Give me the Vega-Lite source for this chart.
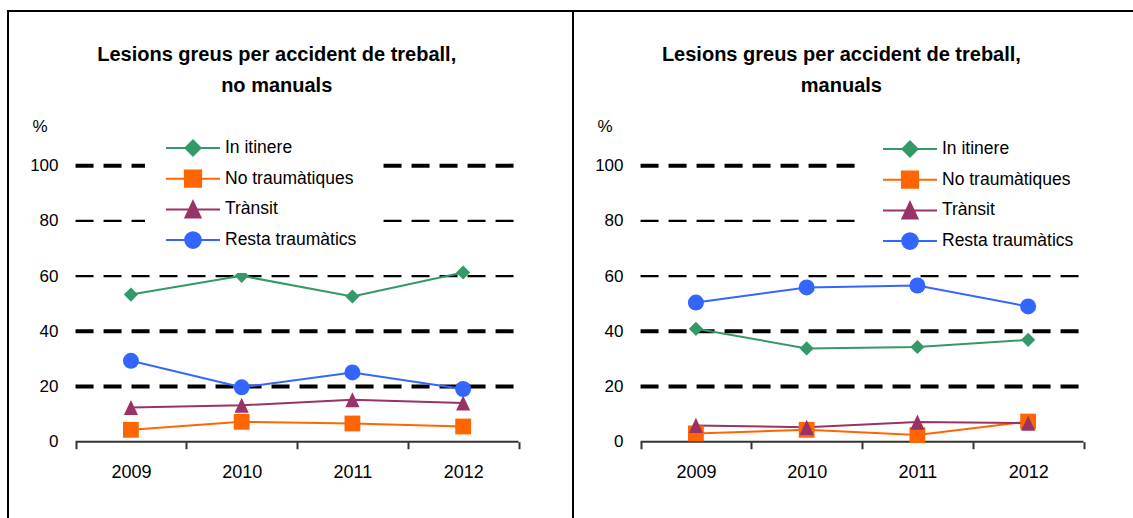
{
  "$schema": "https://vega.github.io/schema/vega-lite/v6.json",
  "background": "white",
  "padding": {"left": 7, "top": 10, "right": 0, "bottom": 0},
  "datasets": {
    "nomanuals": [
      {"year": 2009, "serie": "In itinere", "value": 53.3},
      {"year": 2010, "serie": "In itinere", "value": 60.1},
      {"year": 2011, "serie": "In itinere", "value": 52.6},
      {"year": 2012, "serie": "In itinere", "value": 61.3},
      {"year": 2009, "serie": "No traumàtiques", "value": 4.3},
      {"year": 2010, "serie": "No traumàtiques", "value": 7.2},
      {"year": 2011, "serie": "No traumàtiques", "value": 6.6},
      {"year": 2012, "serie": "No traumàtiques", "value": 5.5},
      {"year": 2009, "serie": "Trànsit", "value": 12.4},
      {"year": 2010, "serie": "Trànsit", "value": 13.2},
      {"year": 2011, "serie": "Trànsit", "value": 15.2},
      {"year": 2012, "serie": "Trànsit", "value": 14.0},
      {"year": 2009, "serie": "Resta traumàtics", "value": 29.3},
      {"year": 2010, "serie": "Resta traumàtics", "value": 19.7},
      {"year": 2011, "serie": "Resta traumàtics", "value": 25.1},
      {"year": 2012, "serie": "Resta traumàtics", "value": 19.1}
    ],
    "manuals": [
      {"year": 2009, "serie": "In itinere", "value": 40.9},
      {"year": 2010, "serie": "In itinere", "value": 33.8},
      {"year": 2011, "serie": "In itinere", "value": 34.3},
      {"year": 2012, "serie": "In itinere", "value": 36.9},
      {"year": 2009, "serie": "No traumàtiques", "value": 3.0},
      {"year": 2010, "serie": "No traumàtiques", "value": 4.3},
      {"year": 2011, "serie": "No traumàtiques", "value": 2.4},
      {"year": 2012, "serie": "No traumàtiques", "value": 7.3},
      {"year": 2009, "serie": "Trànsit", "value": 5.9},
      {"year": 2010, "serie": "Trànsit", "value": 5.2},
      {"year": 2011, "serie": "Trànsit", "value": 7.1},
      {"year": 2012, "serie": "Trànsit", "value": 6.7},
      {"year": 2009, "serie": "Resta traumàtics", "value": 50.4},
      {"year": 2010, "serie": "Resta traumàtics", "value": 55.9},
      {"year": 2011, "serie": "Resta traumàtics", "value": 56.6},
      {"year": 2012, "serie": "Resta traumàtics", "value": 49.0}
    ],
    "grid": [{"value": 20}, {"value": 40}, {"value": 60}, {"value": 80}, {"value": 100}]
  },
  "spacing": 0,
  "bounds": "flush",
  "resolve": {
    "scale": {"color": "independent"},
    "legend": {"color": "independent"}
  },
  "hconcat": [
    {
      "width": 565,
      "height": 520,
      "data": {"name": "nomanuals"},
      "title": {"text": ["Lesions greus per accident de treball,", "no manuals"], "anchor": "middle", "frame": "group", "offset": -101, "baseline": "alphabetic", "dx": -13.8, "fontSize": 20, "fontWeight": "bold", "lineHeight": 31, "color": "black"},
      "layer": [
        {
          "data": {"name": "grid"},
          "mark": {"type": "rule", "color": "black", "strokeDash": [18, 10]},
          "encoding": {
            "x": {"datum": 2008.5, "type": "quantitative", "scale": {"domain": [2007.89, 2012.992], "nice": false, "zero": false}},
            "x2": {"datum": 2012.5},
            "y": {"field": "value", "type": "quantitative", "scale": {"domain": [-32.36, 156.05], "nice": false, "zero": false},
              "axis": {"orient": "left", "offset": -50, "values": [0, 20, 40, 60, 80, 100], "domain": false, "ticks": false, "tickSize": 0, "grid": false, "labelPadding": 0, "labelFontSize": 17, "labelColor": "black", "labelFlush": false, "labelBound": false, "labelOverlap": false, "title": "%", "titleAngle": 0, "titleX": -18.4, "titleY": 115, "titleAlign": "center", "titleBaseline": "middle", "titleFontSize": 17, "titleFontWeight": "normal", "titleColor": "black"}},
            "strokeWidth": {"condition": {"test": "datum.value == 60 || datum.value == 80", "value": 2.3}, "value": 4}
          }
        },
        {
          "data": {"values": [{}]},
          "mark": {"type": "rule", "color": "#333333", "strokeWidth": 2},
          "encoding": {
            "x": {"datum": 2008.5, "type": "quantitative"},
            "x2": {"datum": 2012.5},
            "y": {"datum": 0, "type": "quantitative"}
          }
        },
        {
          "mark": {"type": "line", "strokeWidth": 2},
          "encoding": {
            "x": {"field": "year", "type": "quantitative", "scale": {"domain": [2007.89, 2012.992], "nice": false, "zero": false},
              "axis": {"orient": "bottom", "offset": -89.3, "title": null, "domain": false, "grid": false, "values": [2008.5, 2009, 2009.5, 2010, 2010.5, 2011, 2011.5, 2012, 2012.5], "tickSize": 7, "tickWidth": 2, "tickColor": "#333333", "tickOpacity": {"condition": {"test": "datum.value % 1 === 0", "value": 0}, "value": 1}, "labelExpr": "datum.value % 1 === 0 ? format(datum.value, 'd') : ''", "labelFontSize": 18, "labelColor": "black", "labelPadding": 15, "labelOverlap": false, "labelBound": false, "labelFlush": false}},
            "y": {"field": "value", "type": "quantitative", "scale": {"domain": [-32.36, 156.05], "nice": false, "zero": false}},
            "color": {"field": "serie", "type": "nominal", "scale": {"domain": ["In itinere", "No traumàtiques", "Trànsit", "Resta traumàtics"], "range": ["#339966", "#FF6600", "#993366", "#3366FF"]},
              "legend": {"orient": "none", "legendX": 137, "legendY": 105, "title": null, "padding": 20, "fillColor": "white", "clipHeight": 24, "rowPadding": 6.7, "labelOffset": 4, "labelFontSize": 17.5, "labelColor": "black", "symbolSize": 2916, "symbolStrokeWidth": 2, "symbolOpacity": 1,
                "encode": {"symbols": {"update": {
                  "shape": {"signal": "datum.value === 'In itinere' ? 'M-1,0H1M0,-0.28L0.28,0L0,0.28L-0.28,0Z' : datum.value === 'No traumàtiques' ? 'M-1,0H1M-0.3,-0.3H0.3V0.3H-0.3Z' : datum.value === 'Trànsit' ? 'M-1,0H1M0,-0.3L0.28,0.3L-0.28,0.3Z' : 'M-1,0H1M-0.29,0A0.29,0.29 0 1,0 0.29,0A0.29,0.29 0 1,0 -0.29,0Z'"},
                  "fill": {"signal": "datum.value === 'In itinere' ? '#339966' : datum.value === 'No traumàtiques' ? '#FF6600' : datum.value === 'Trànsit' ? '#993366' : '#3366FF'"},
                  "stroke": {"signal": "datum.value === 'In itinere' ? '#339966' : datum.value === 'No traumàtiques' ? '#FF6600' : datum.value === 'Trànsit' ? '#993366' : '#3366FF'"},
                  "size": {"value": 2916},
                  "strokeWidth": {"value": 2}
                }}}}}
          }
        },
        {
          "transform": [{"filter": "datum.serie === 'In itinere'"}],
          "mark": {"type": "point", "filled": true, "opacity": 1, "shape": "diamond", "color": "#339966", "size": 200},
          "encoding": {"x": {"field": "year", "type": "quantitative"}, "y": {"field": "value", "type": "quantitative"}}
        },
        {
          "transform": [{"filter": "datum.serie === 'No traumàtiques'"}],
          "mark": {"type": "point", "filled": true, "opacity": 1, "shape": "square", "color": "#FF6600", "size": 250},
          "encoding": {"x": {"field": "year", "type": "quantitative"}, "y": {"field": "value", "type": "quantitative"}}
        },
        {
          "transform": [{"filter": "datum.serie === 'Trànsit'"}],
          "mark": {"type": "point", "filled": true, "opacity": 1, "shape": "M0,-1.07L1,1.07L-1,1.07Z", "color": "#993366", "size": 200},
          "encoding": {"x": {"field": "year", "type": "quantitative"}, "y": {"field": "value", "type": "quantitative"}}
        },
        {
          "transform": [{"filter": "datum.serie === 'Resta traumàtics'"}],
          "mark": {"type": "point", "filled": true, "opacity": 1, "shape": "circle", "color": "#3366FF", "size": 256},
          "encoding": {"x": {"field": "year", "type": "quantitative"}, "y": {"field": "value", "type": "quantitative"}}
        }
      ]
    },
    {
      "width": 565,
      "height": 520,
      "data": {"name": "manuals"},
      "title": {"text": ["Lesions greus per accident de treball,", "manuals"], "anchor": "middle", "frame": "group", "offset": -101, "baseline": "alphabetic", "dx": -14.1, "fontSize": 20, "fontWeight": "bold", "lineHeight": 31, "color": "black"},
      "layer": [
        {
          "data": {"name": "grid"},
          "mark": {"type": "rule", "color": "black", "strokeDash": [18, 10]},
          "encoding": {
            "x": {"datum": 2008.5, "type": "quantitative", "scale": {"domain": [2007.89, 2012.992], "nice": false, "zero": false}},
            "x2": {"datum": 2012.5},
            "y": {"field": "value", "type": "quantitative", "scale": {"domain": [-32.36, 156.05], "nice": false, "zero": false},
              "axis": {"orient": "left", "offset": -50, "values": [0, 20, 40, 60, 80, 100], "domain": false, "ticks": false, "tickSize": 0, "grid": false, "labelPadding": 0, "labelFontSize": 17, "labelColor": "black", "labelFlush": false, "labelBound": false, "labelOverlap": false, "title": "%", "titleAngle": 0, "titleX": -18.4, "titleY": 115, "titleAlign": "center", "titleBaseline": "middle", "titleFontSize": 17, "titleFontWeight": "normal", "titleColor": "black"}},
            "strokeWidth": {"condition": {"test": "datum.value == 60 || datum.value == 80", "value": 2.3}, "value": 4}
          }
        },
        {
          "data": {"values": [{}]},
          "mark": {"type": "rule", "color": "#333333", "strokeWidth": 2},
          "encoding": {
            "x": {"datum": 2008.5, "type": "quantitative"},
            "x2": {"datum": 2012.5},
            "y": {"datum": 0, "type": "quantitative"}
          }
        },
        {
          "mark": {"type": "line", "strokeWidth": 2},
          "encoding": {
            "x": {"field": "year", "type": "quantitative", "scale": {"domain": [2007.89, 2012.992], "nice": false, "zero": false},
              "axis": {"orient": "bottom", "offset": -89.3, "title": null, "domain": false, "grid": false, "values": [2008.5, 2009, 2009.5, 2010, 2010.5, 2011, 2011.5, 2012, 2012.5], "tickSize": 7, "tickWidth": 2, "tickColor": "#333333", "tickOpacity": {"condition": {"test": "datum.value % 1 === 0", "value": 0}, "value": 1}, "labelExpr": "datum.value % 1 === 0 ? format(datum.value, 'd') : ''", "labelFontSize": 18, "labelColor": "black", "labelPadding": 15, "labelOverlap": false, "labelBound": false, "labelFlush": false}},
            "y": {"field": "value", "type": "quantitative", "scale": {"domain": [-32.36, 156.05], "nice": false, "zero": false}},
            "color": {"field": "serie", "type": "nominal", "scale": {"domain": ["In itinere", "No traumàtiques", "Trànsit", "Resta traumàtics"], "range": ["#339966", "#FF6600", "#993366", "#3366FF"]},
              "legend": {"orient": "none", "legendX": 289, "legendY": 106, "title": null, "padding": 20, "fillColor": "white", "clipHeight": 24, "rowPadding": 6.7, "labelOffset": 4, "labelFontSize": 17.5, "labelColor": "black", "symbolSize": 2916, "symbolStrokeWidth": 2, "symbolOpacity": 1,
                "encode": {"symbols": {"update": {
                  "shape": {"signal": "datum.value === 'In itinere' ? 'M-1,0H1M0,-0.28L0.28,0L0,0.28L-0.28,0Z' : datum.value === 'No traumàtiques' ? 'M-1,0H1M-0.3,-0.3H0.3V0.3H-0.3Z' : datum.value === 'Trànsit' ? 'M-1,0H1M0,-0.3L0.28,0.3L-0.28,0.3Z' : 'M-1,0H1M-0.29,0A0.29,0.29 0 1,0 0.29,0A0.29,0.29 0 1,0 -0.29,0Z'"},
                  "fill": {"signal": "datum.value === 'In itinere' ? '#339966' : datum.value === 'No traumàtiques' ? '#FF6600' : datum.value === 'Trànsit' ? '#993366' : '#3366FF'"},
                  "stroke": {"signal": "datum.value === 'In itinere' ? '#339966' : datum.value === 'No traumàtiques' ? '#FF6600' : datum.value === 'Trànsit' ? '#993366' : '#3366FF'"},
                  "size": {"value": 2916},
                  "strokeWidth": {"value": 2}
                }}}}}
          }
        },
        {
          "transform": [{"filter": "datum.serie === 'In itinere'"}],
          "mark": {"type": "point", "filled": true, "opacity": 1, "shape": "diamond", "color": "#339966", "size": 200},
          "encoding": {"x": {"field": "year", "type": "quantitative"}, "y": {"field": "value", "type": "quantitative"}}
        },
        {
          "transform": [{"filter": "datum.serie === 'No traumàtiques'"}],
          "mark": {"type": "point", "filled": true, "opacity": 1, "shape": "square", "color": "#FF6600", "size": 250},
          "encoding": {"x": {"field": "year", "type": "quantitative"}, "y": {"field": "value", "type": "quantitative"}}
        },
        {
          "transform": [{"filter": "datum.serie === 'Trànsit'"}],
          "mark": {"type": "point", "filled": true, "opacity": 1, "shape": "M0,-1.07L1,1.07L-1,1.07Z", "color": "#993366", "size": 200},
          "encoding": {"x": {"field": "year", "type": "quantitative"}, "y": {"field": "value", "type": "quantitative"}}
        },
        {
          "transform": [{"filter": "datum.serie === 'Resta traumàtics'"}],
          "mark": {"type": "point", "filled": true, "opacity": 1, "shape": "circle", "color": "#3366FF", "size": 256},
          "encoding": {"x": {"field": "year", "type": "quantitative"}, "y": {"field": "value", "type": "quantitative"}}
        }
      ]
    }
  ],
  "config": {
    "view": {"stroke": "black", "strokeWidth": 2},
    "font": "Liberation Sans"
  }
}
